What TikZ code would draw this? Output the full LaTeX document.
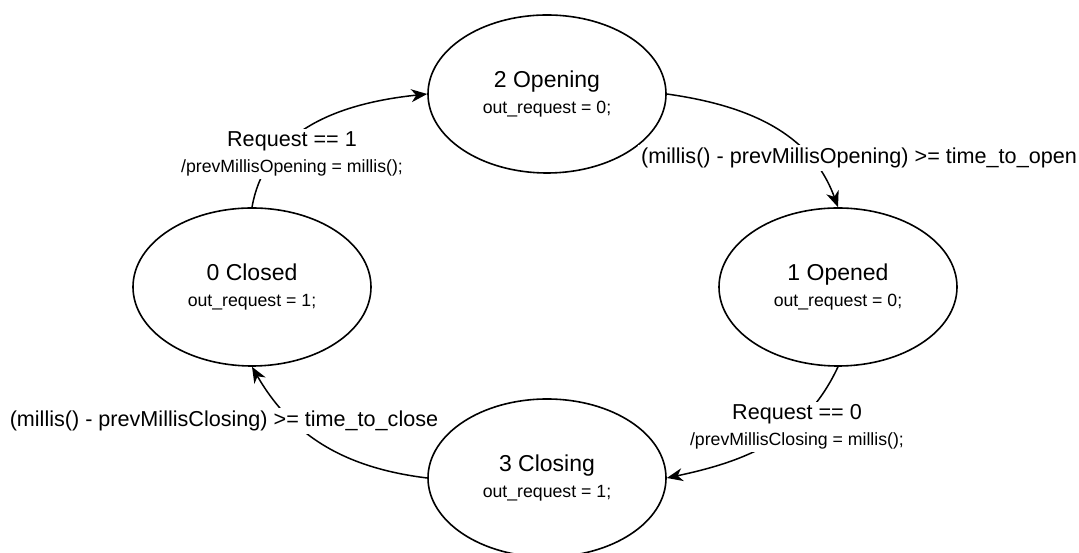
\documentclass[tikz,border=0pt]{standalone}
\usepackage{fontspec}
\setmainfont{Liberation Sans}
\usetikzlibrary{shapes.geometric,arrows.meta}
\newcommand{\bigf}{\fontsize{23}{26}\selectfont}
\newcommand{\medf}{\fontsize{21.6}{26}\selectfont}
\newcommand{\smf}{\fontsize{17.7}{26}\selectfont}
\begin{document}
\begin{tikzpicture}[x=1pt, y=1pt, line join=round, >={Stealth[length=16pt,width=13pt,inset=5pt]},
	st/.style={draw, line width=1.6pt, ellipse, minimum width=238pt, minimum height=158pt, inner sep=0pt, align=center, font=\smf},
	lb/.style={fill=white, inner sep=3pt, align=center, font=\smf},
	tr/.style={->, line width=1.5pt}]
	\useasboundingbox (0,0) rectangle (1079,553);
	% states
	\node[st] (cl) at (252,266) {{\bigf 0 Closed}\\out\_request = 1;};
	\node[st] (og) at (547,459) {{\bigf 2 Opening}\\out\_request = 0;};
	\node[st] (od) at (838,266) {{\bigf 1 Opened}\\out\_request = 0;};
	\node[st] (cg) at (547,75) {{\bigf 3 Closing}\\out\_request = 1;};
	% transitions
	\draw[tr] (cl.north) to[out=80, in=186] (og.west);
	\draw[tr] (og.east) to[out=-8, in=110] (od.north);
	\draw[tr] (od.south) to[out=245, in=12] (cg.east);
	\draw[tr] (cg.west) to[out=173, in=300] (cl.south);
	% conditions
	\node[lb] (t1) at (292,399) {{\medf Request == 1}\\/prevMillisOpening = millis();};
	\node[lb, font=\medf] (t2) at (859,395) {(millis() - prevMillisOpening) >= time\_to\_open};
	\node[lb] (t3) at (797,126) {{\medf Request == 0}\\/prevMillisClosing = millis();};
	\node[lb, font=\medf] (t4) at (224,132) {(millis() - prevMillisClosing) >= time\_to\_close};
\end{tikzpicture}
\end{document}
